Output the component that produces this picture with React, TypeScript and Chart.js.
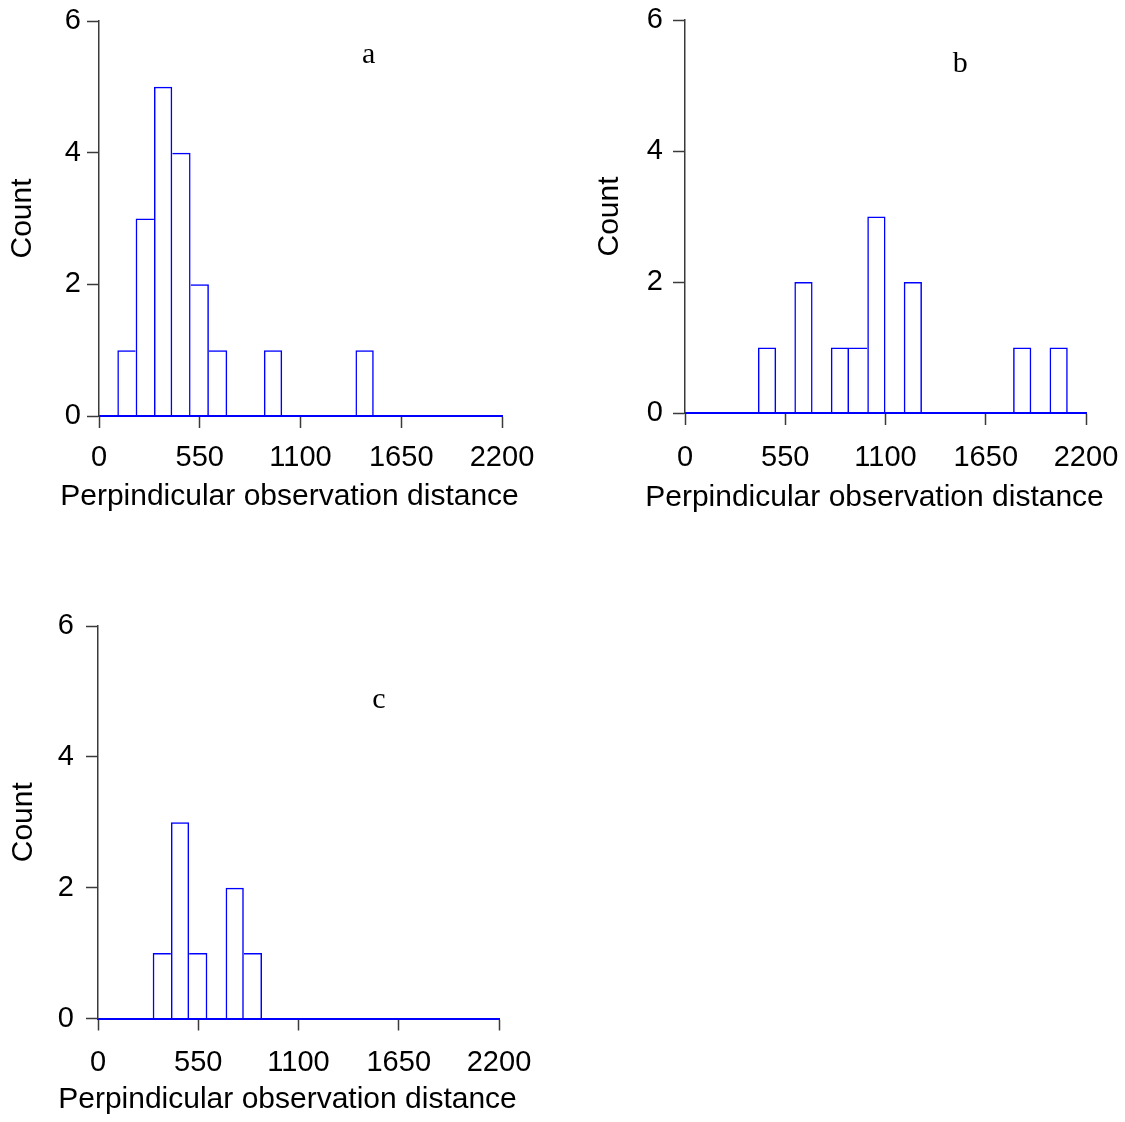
import React, { useEffect, useRef } from "react";
import { Chart, registerables } from "chart.js";

Chart.register(...registerables);

// ---- data ----
const binStarts = [0, 100, 200, 300, 400, 500, 600, 700, 800, 900, 1000, 1100, 1200, 1300, 1400, 1500, 1600, 1700, 1800, 1900, 2000, 2100];
const binWidth = 100;
const countsA = [0, 1, 3, 5, 4, 2, 1, 0, 0, 1, 0, 0, 0, 0, 1, 0, 0, 0, 0, 0, 0, 0];
const countsB = [0, 0, 0, 0, 1, 0, 2, 0, 1, 1, 3, 0, 2, 0, 0, 0, 0, 0, 1, 0, 1, 0];
const countsC = [0, 0, 0, 1, 3, 1, 0, 2, 1, 0, 0, 0, 0, 0, 0, 0, 0, 0, 0, 0, 0, 0];
const xTickValues = [0, 550, 1100, 1650, 2200];
const yTickValues = [0, 2, 4, 6];
const panelLetters = ["a", "b", "c"];
const xTitle = "Perpindicular observation distance";
const yTitle = "Count";

const binLabels = binStarts.map((s) => `${s}-${s + binWidth}`);

// ---- layout (positions / styles) ----
type Panel = {
  counts: number[];
  letter: string;
  letterX: number;
  letterY: number;
  left: number;
  top: number;
  width: number;
  height: number;
  area: { left: number; right: number; top: number; bottom: number };
  yTickPad: number;
  yTitlePad: number;
  xTickPad: number;
  xTitleY: number;
};

const panels: Panel[] = [
  {
    counts: countsA, letter: panelLetters[0], letterX: 1472, letterY: 5.36,
    left: 0, top: 0, width: 560, height: 540,
    area: { left: 99, right: 502, top: 21, bottom: 416 },
    yTickPad: 6, yTitlePad: 4.5, xTickPad: 12.6, xTitleY: 496.5,
  },
  {
    counts: countsB, letter: panelLetters[1], letterX: 1510, letterY: 5.21,
    left: 585, top: 0, width: 540, height: 540,
    area: { left: 100, right: 501, top: 20, bottom: 413 },
    yTickPad: 10, yTitlePad: 7, xTickPad: 15.6, xTitleY: 497.3,
  },
  {
    counts: countsC, letter: panelLetters[2], letterX: 1541, letterY: 4.75,
    left: 0, top: 600, width: 560, height: 522,
    area: { left: 98, right: 499, top: 26, bottom: 418.5 },
    yTickPad: 12, yTitlePad: 5.3, xTickPad: 14.6, xTitleY: 499.7,
  },
];

const SANS = '"Liberation Sans", Arial, Helvetica, sans-serif';
const SERIF = '"Liberation Serif", "Times New Roman", Times, serif';
const BAR_BLUE = "#0000ff";
const AXIS_GRAY = "#3a3a3a";
const LINE_W = 1.5;
const TICK_FONT = 29;
const TITLE_FONT = 30;
const TITLE_SHIFT_X = -11;

// Panel letter drawn at a data position inside the plot
const letterPlugin = {
  id: "panelLetter",
  afterDraw(chart: any, _args: any, opts: any) {
    const { ctx, scales } = chart;
    const px = scales.x.getPixelForValue(opts.x);
    const py = scales.y.getPixelForValue(opts.y);
    ctx.save();
    ctx.font = `30px ${SERIF}`;
    ctx.fillStyle = "#000";
    ctx.textAlign = "center";
    ctx.textBaseline = "alphabetic";
    ctx.fillText(opts.text, px, py);
    ctx.restore();
  },
};

// X-axis title drawn without width compression (wider than the plot, as in the original)
const xTitlePlugin = {
  id: "xTitleFree",
  afterDraw(chart: any, _args: any, opts: any) {
    const { ctx, chartArea } = chart;
    ctx.save();
    ctx.font = `${TITLE_FONT}px ${SANS}`;
    ctx.fillStyle = "#000";
    ctx.textAlign = "center";
    ctx.textBaseline = "middle";
    ctx.fillText(opts.text, (chartArea.left + chartArea.right) / 2 + opts.shift, opts.y);
    ctx.restore();
  },
};

function HistPanel({ p }: { p: Panel }) {
  const ref = useRef<HTMLCanvasElement | null>(null);

  useEffect(() => {
    if (!ref.current) return;
    const counts = p.counts;
    const chart = new Chart(ref.current, {
      type: "bar",
      data: {
        labels: binLabels,
        datasets: [
          {
            data: counts,
            xAxisID: "xb",
            yAxisID: "y",
            backgroundColor: "rgba(255,255,255,0)",
            borderColor: BAR_BLUE,
            borderSkipped: false,
            inflateAmount: 0,
            barPercentage: 1,
            categoryPercentage: 1,
            borderWidth: (ctx: any) => {
              const i = ctx.dataIndex;
              const cur = counts[i];
              const prev = i > 0 ? counts[i - 1] : 0;
              const next = i < counts.length - 1 ? counts[i + 1] : 0;
              return {
                top: LINE_W,
                bottom: 0,
                left: prev < cur ? LINE_W : 0,
                right: next <= cur ? LINE_W : 0,
              };
            },
          } as any,
        ],
      },
      options: {
        responsive: false,
        maintainAspectRatio: false,
        animation: false,
        devicePixelRatio: 1,
        layout: {
          padding: { left: 0, top: p.area.top, right: p.width - p.area.right, bottom: 0 },
        },
        plugins: {
          legend: { display: false },
          tooltip: { enabled: false },
          title: { display: false },
          panelLetter: { text: p.letter, x: p.letterX, y: p.letterY },
          xTitleFree: { text: xTitle, y: p.xTitleY, shift: TITLE_SHIFT_X },
        } as any,
        scales: {
          xb: {
            type: "category",
            display: false,
            offset: true,
            grid: { offset: true },
          },
          x: {
            type: "linear",
            position: "bottom",
            min: 0,
            max: 2200,
            offset: false,
            afterBuildTicks: (s: any) => {
              s.ticks = xTickValues.map((v) => ({ value: v }));
            },
            afterFit: (s: any) => {
              s.height = p.height - p.area.bottom;
              s.paddingLeft = 0;
              s.paddingRight = 0;
            },
            ticks: {
              autoSkip: false,
              maxRotation: 0,
              minRotation: 0,
              padding: p.xTickPad,
              color: "#000",
              font: { family: SANS, size: TICK_FONT },
              callback: (v: any) => String(v),
            },
            grid: {
              offset: false,
              drawOnChartArea: false,
              drawTicks: true,
              tickLength: 12,
              tickColor: AXIS_GRAY,
              tickWidth: 1.5,
            },
            border: { display: true, color: BAR_BLUE, width: 2 },
            title: { display: false },
          },
          y: {
            type: "linear",
            position: "left",
            min: 0,
            max: 6,
            afterBuildTicks: (s: any) => {
              s.ticks = yTickValues.map((v) => ({ value: v }));
            },
            afterFit: (s: any) => {
              s.width = p.area.left;
              s.paddingTop = 0;
              s.paddingBottom = 0;
            },
            ticks: {
              padding: p.yTickPad,
              color: "#000",
              font: { family: SANS, size: TICK_FONT },
              callback: (v: any) => String(v),
            },
            grid: {
              drawOnChartArea: false,
              drawTicks: true,
              tickLength: 12,
              tickColor: AXIS_GRAY,
              tickWidth: 1.5,
            },
            border: { display: true, color: AXIS_GRAY, width: 1.5 },
            title: {
              display: true,
              text: yTitle,
              color: "#000",
              font: { family: SANS, size: TITLE_FONT },
              padding: { top: p.yTitlePad, bottom: 0 },
            },
          },
        } as any,
      },
      plugins: [letterPlugin as any, xTitlePlugin as any],
    });
    return () => chart.destroy();
  }, [p]);

  return (
    <canvas
      ref={ref}
      width={p.width}
      height={p.height}
      style={{
        position: "absolute",
        left: p.left,
        top: p.top,
        width: p.width,
        height: p.height,
      }}
    />
  );
}

export default function App() {
  return (
    <div
      style={{
        position: "absolute",
        left: 0,
        top: 0,
        width: 1125,
        height: 1122,
        background: "#fff",
        overflow: "hidden",
      }}
    >
      {panels.map((p, i) => (
        <HistPanel key={i} p={p} />
      ))}
    </div>
  );
}
